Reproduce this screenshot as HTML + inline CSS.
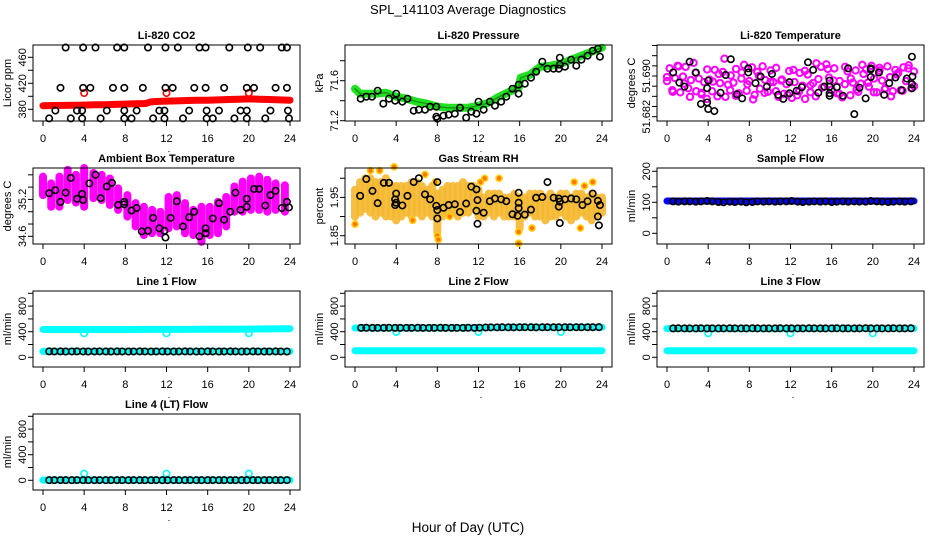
<!DOCTYPE html>
<html><head><meta charset="utf-8"><style>
html,body{margin:0;padding:0;background:#fff;}
svg{display:block;font-family:"Liberation Sans",sans-serif;}
</style></head><body>
<svg id="chart" width="936" height="540" viewBox="0 0 936 540" xmlns="http://www.w3.org/2000/svg">
<rect width="936" height="540" fill="#fff"/>
<text x="468" y="14" text-anchor="middle" font-size="13">SPL_141103  Average Diagnostics</text>
<text x="468" y="532" text-anchor="middle" font-size="13.5">Hour of Day (UTC)</text>
</svg>
<script>
// ---------- data ----------
const xTicks = [0,4,8,12,16,20,24];
// CO2
const co2BlackHours = [2.2,3.9,5.1,7.2,7.9,10.2,11.9,13.1,15.2,15.8,18.1,19.9,21.1,23.2,23.7,
 1.7,3.9,4.6,6.8,7.9,9.7,11.9,12.6,14.7,15.8,17.6,19.8,20.5,22.6,23.7,
 1.2,3.3,3.8,6.2,7.9,9.1,11.3,11.8,14.2,15.9,17.1,19.2,19.8,22.1,23.8,
 0.6,2.7,3.8,5.6,7.9,8.6,10.7,11.8,13.6,15.9,16.5,18.6,19.8,21.6,23.9];
const co2BlackVals = [475,475,475,475,475,475,475,475,475,475,475,475,475,475,475,
 413,413,413,413,413,413,413,413,413,413,413,413,413,413,413,
 378,378,378,378,378,378,378,378,378,378,378,378,378,378,378,
 366,366,366,366,366,366,366,366,366,366,366,366,366,366,366];
const co2RedHours = [0,1,2,3,4,5,6,7,8,9,10,10.5,11,12,13,14,15,16,17,18,19,20,21,22,23,24];
const co2RedVals = [385.5,385.8,386,386.2,386.5,387,387,387.5,388,388.5,389,391.5,392,392.5,393,393.5,394,394,394.5,395,395.5,396,395.5,395,394.5,394];
const co2RedOutHours = [4,12,20];
const co2RedOutVals = [405,405,405];
// Pressure
const pressBandHours = [0,0.5,1,2,3,4,5,6,7,8,9,10,11,12,13,14,15,15.9,16.1,17,18,19,20,21,22,23,24];
const pressBandVals = [71.52,71.47,71.47,71.47,71.48,71.44,71.42,71.39,71.37,71.34,71.33,71.33,71.33,71.35,71.38,71.44,71.49,71.53,71.63,71.66,71.74,71.75,71.77,71.81,71.85,71.89,71.93];
const pressBlackHours = [0.55,1.1,1.65,2.2,2.75,3.3,3.9,4.0,4.6,5.1,5.7,6.2,6.8,7.3,7.9,8.0,7.9,8.6,9.1,9.7,10.2,10.8,11.3,11.8,12.0,12.5,13.1,13.6,14.2,14.7,15.3,15.9,15.9,16.5,17.1,17.6,18.2,18.7,19.3,19.8,19.9,19.9,20.4,21.0,21.5,22.0,22.6,23.1,23.6,23.8];
const pressBlackVals = [71.42,71.44,71.44,71.50,71.37,71.42,71.40,71.47,71.39,71.42,71.30,71.31,71.31,71.34,71.24,71.22,71.34,71.25,71.26,71.27,71.33,71.23,71.29,71.27,71.39,71.31,71.39,71.35,71.39,71.44,71.52,71.56,71.47,71.57,71.63,71.69,71.79,71.72,71.72,71.72,71.83,71.76,71.74,71.81,71.75,71.81,71.85,71.90,71.92,71.84];
// Li-820 temperature (degrees C)
const liTempA = [51.6890,51.6915,51.6872,51.6896,51.6920,51.6868,51.6899,51.6918,51.6876,51.6892,51.6926,51.6870,51.6895,
 51.6864,51.6888,51.6855,51.6893,51.6870,51.6912,51.6860,51.6886,51.6908,51.6859,51.6883,51.6901,
 51.6887,51.6914,51.6866,51.6895,51.6922,51.6871,51.6890,51.6917,51.6863,51.6908,51.6875,51.6919,51.6892,51.6869,51.6911,51.6888,
 51.6870,51.6859,51.6891,51.6865,51.6884,51.6910,51.6857,51.6888,51.6862,51.6906,51.6881,51.6855,51.6903,51.6868,51.6886,51.6860,
 51.6894,51.6918,51.6879,51.6923,51.6897,51.6873,51.6915,
 51.6866,51.6890,51.6858,51.6884,51.6909,51.6862,51.6887,51.6911,51.6869,51.6885,51.6904,
 51.6913,51.6879,51.6920,51.6895,51.6868,51.6916,51.6891,51.6874,51.6919,51.6898,51.6870,51.6912,
 51.6906,51.6872,51.6917,51.6890,51.6921,51.6876,51.6909];
const liTempB = [51.6898,51.6869,51.6919,51.6885,51.6859,51.6906,51.6867,51.6913,51.6889,51.6904,51.6934,51.6872,
 51.6861,51.6907,51.6884,51.6854,51.6900,51.6867,51.6888,51.6916,51.6893,51.6863,51.6912,51.6870,
 51.6910,51.6882,51.6925,51.6877,51.6914,51.6891,51.6865,51.6918,51.6895,51.6873,51.6922,51.6887,
 51.6868,51.6911,51.6876,51.6860,51.6903,51.6871,51.6915,51.6880];
const liTempBlackHours = [0.6,1.2,1.7,2.2,2.8,3.3,4.0,3.9,3.9,4.0,4.6,5.2,5.7,6.2,6.8,7.3,7.9,7.9,8.6,9.1,9.7,10.2,10.8,11.3,11.9,11.9,12.6,13.1,13.7,14.2,14.7,15.3,15.8,15.8,15.8,15.8,16.5,17.1,17.6,18.2,18.7,19.3,19.8,19.8,19.8,20.6,21.1,21.6,22.2,22.8,23.3,23.8,23.85,23.8,23.8];
const liTempBlackVals = [51.6907,51.6887,51.6879,51.6928,51.6907,51.6845,51.6891,51.6876,51.6848,51.6835,51.6831,51.6867,51.6902,51.6933,51.6864,51.6856,51.6915,51.6907,51.6886,51.6899,51.6879,51.6904,51.6863,51.6855,51.6888,51.6866,51.6871,51.6878,51.6927,51.6912,51.6867,51.6879,51.6891,51.6879,51.6866,51.6861,51.6878,51.6861,51.6915,51.6825,51.6877,51.6856,51.6915,51.6913,51.6898,51.6907,51.6863,51.6886,51.6897,51.6872,51.6895,51.6938,51.6899,51.6884,51.6876];
// Ambient box temperature
const ambHours = [0.0,0.8,1.6,2.4,3.2,4.0,4.9,5.7,6.5,7.3,8.2,9.0,9.8,10.6,11.4,12.2,13.0,13.8,14.6,15.4,16.2,17.0,17.8,18.6,19.4,20.2,21.0,21.8,22.6,23.5];
const ambLow = [35.27,35.08,35.08,35.19,35.15,35.08,35.22,35.19,35.11,35.03,34.92,34.76,34.62,34.65,34.65,34.73,34.76,34.65,34.62,34.51,34.62,34.65,34.76,35.00,35.00,35.03,35.03,35.00,35.03,35.00];
const ambHigh = [35.57,35.46,35.57,35.68,35.60,35.71,35.63,35.60,35.54,35.38,35.27,35.14,35.08,35.03,35.00,35.24,35.27,35.14,35.03,35.08,35.08,35.16,35.24,35.41,35.49,35.54,35.57,35.52,35.46,35.43];
const ambBlackHours = [0.6,1.2,1.7,2.2,2.7,3.3,3.8,3.9,4.5,5.1,5.6,6.2,6.7,7.3,7.9,7.9,8.6,9.1,9.6,10.2,10.7,11.3,11.8,11.9,12.4,13.0,13.6,14.2,14.7,15.2,15.8,15.8,16.5,17.1,17.6,18.2,18.7,19.2,19.8,19.8,20.5,21.0,21.6,22.1,22.6,23.2,23.7,23.9];
const ambBlackVals = [35.30,35.35,35.16,35.31,35.55,35.21,35.29,35.19,35.46,35.60,35.22,35.41,35.47,35.11,35.16,35.12,35.02,35.06,34.68,34.69,34.90,34.73,34.69,34.58,34.90,35.17,34.76,34.91,35.00,34.60,34.73,34.65,34.89,35.14,34.87,35.00,35.31,35.03,35.21,35.08,35.37,35.37,35.10,35.27,35.34,35.06,35.16,35.07];
// Gas stream RH
const rhHours = [0,0.5,1,1.5,2,2.5,3,3.5,4,4.5,5,5.5,6,6.5,7,7.5,8,8.5,9,9.5,10,10.5,11,11.5,12,12.5,13,13.5,14,14.5,15,15.5,16,16.5,17,17.5,18,18.5,19,19.5,20,20.5,21,21.5,22,22.5,23,23.5,24];
const rhLow = [1.90,1.91,1.92,1.91,1.90,1.91,1.90,1.90,1.89,1.90,1.91,1.90,1.91,1.90,1.91,1.90,1.86,1.90,1.91,1.91,1.90,1.91,1.91,1.92,1.90,1.90,1.91,1.90,1.91,1.90,1.90,1.90,1.87,1.90,1.91,1.90,1.90,1.89,1.90,1.90,1.91,1.90,1.89,1.90,1.91,1.90,1.89,1.90,1.91];
const rhHigh = [1.97,1.99,2.00,2.00,1.99,1.99,2.00,1.98,1.98,1.98,1.98,1.99,1.99,1.98,1.97,1.98,1.96,1.97,1.98,1.98,1.98,1.99,1.98,1.98,1.97,1.95,1.96,1.96,1.96,1.95,1.95,1.96,1.95,1.95,1.96,1.96,1.96,1.95,1.96,1.95,1.96,1.96,1.95,1.96,1.96,1.95,1.96,1.95,1.95];
const rhOutHours = [0,1.5,2.4,3.8,6.8,7.8,8,8.1,14,15.9,15.9,17.2,21.3,22.3,23.1,21.9,5.6,9.2,12.2,12.6];
const rhOutVals = [1.88,2.02,2.02,2.03,2.01,1.99,1.85,1.84,2.00,1.83,1.86,1.87,1.99,1.98,1.99,1.87,1.89,1.90,1.99,2.00];
const rhBlackHours = [0.5,1.1,1.7,2.2,2.8,3.3,3.9,3.9,4.0,4.0,4.6,5.1,5.7,6.2,6.8,7.3,7.9,8.0,8.0,8.0,8.6,9.1,9.7,10.2,10.8,11.3,11.8,11.8,11.9,11.9,12.5,13.1,13.6,14.2,14.7,15.3,15.8,15.9,15.9,15.9,16.5,17.1,17.6,18.2,18.7,19.3,19.8,19.8,19.9,19.9,20.4,21.0,21.5,22.1,22.6,23.1,23.6,23.6,23.8,23.7];
const rhBlackVals = [1.954,1.998,1.967,1.935,1.988,1.988,1.945,1.930,1.936,1.960,1.929,1.954,1.990,2.000,1.958,1.945,1.928,1.990,1.895,1.917,1.923,1.930,1.932,1.912,1.934,1.978,1.971,1.915,1.943,1.881,1.910,1.940,1.947,1.945,1.940,1.906,1.902,1.962,1.936,1.922,1.905,1.918,1.949,1.951,1.990,1.949,1.947,1.926,1.939,1.883,1.945,1.947,1.945,1.930,1.940,1.960,1.941,1.900,1.930,1.877];
// Flows
const flowBlackHours = [0.6,1.1,1.7,2.2,2.8,3.3,3.9,4.4,5.0,5.5,6.1,6.6,7.2,7.7,8.3,8.8,9.4,9.9,10.5,11.0,11.6,12.1,12.7,13.2,13.8,14.3,14.9,15.4,16.0,16.5,17.1,17.6,18.2,18.7,19.3,19.8,20.4,20.9,21.5,22.0,22.6,23.1,23.7];
const sampleBlack = [103,102,103,103,102,103,104,103,101,100,102,101,102,100,101,103,102,103,102,103,103,104,102,101,102,103,102,103,101,102,103,102,103,102,102,104,103,102,101,102,103,102,103];
const line1Black = [92,91,92,90,91,92,91,90,91,92,91,90,92,91,90,91,92,91,90,91,92,91,90,91,92,91,90,91,92,91,90,91,92,91,90,91,92,91,90,91,92,91,90];
const line2Black = [460,461,460,459,460,461,460,460,459,460,461,460,459,460,461,460,460,459,460,461,460,462,466,468,468,469,468,468,469,470,469,468,469,470,469,469,470,469,470,469,470,470,471];
const line3Black = [452,453,452,451,452,453,452,452,451,452,453,452,451,452,453,452,452,451,452,453,452,452,451,452,453,452,452,451,452,453,452,452,451,452,453,452,452,451,452,453,452,452,453];
const line4Black = [2,2,3,2,2,3,2,2,2,3,2,2,3,2,2,3,2,2,2,3,2,2,3,2,2,3,2,2,2,3,2,2,3,2,2,3,2,2,2,3,2,2,3];
const bandHours = [0,2,4,6,8,10,12,14,16,18,20,22,24];
const sampleBlue = [104,104,104,104,104,104,104,104,104,104,104,104,104];
const line1CyanHi = [435,435,434,435,435,436,436,437,438,439,441,444,447];
const line1CyanLo = [92,92,92,92,92,92,92,92,92,92,92,92,92];
const line2CyanHi = [458,458,458,458,458,460,462,466,468,468,468,469,470];
const line2CyanLo = [103,103,103,103,103,103,103,103,103,103,103,103,103];
const line3CyanHi = [448,448,448,448,448,449,449,450,451,452,452,452,452];
const line3CyanLo = [103,103,103,103,103,103,103,103,103,103,103,103,103];
const line4CyanLo = [3,3,3,3,3,3,3,3,3,3,3,3,3];
const outHours = [4,12,20];
const line1Out = [375,375,375];
const line2Out = [395,395,395];
const line3Out = [375,375,375];
const line4Out = [105,105,105];

// ---------- drawing ----------
const NS = 'http://www.w3.org/2000/svg';
const svg = document.getElementById('chart');
function mk(tag, parent, name){
  const el = document.createElementNS(NS, tag);
  
  
  parent.appendChild(el);
  return el;
}
function panel(col, row, title, ylab, yBot, yTop, ticks, labels, pname){
  const L = 33 + col*312, T = 45 + row*123, W = 267, H = 76;
  const g = mk('g', svg, pname + '-panel');
  const sx = h => L + 10 + h*(W-20)/24;
  const sy = v => T + H - (v - yBot)/(yTop - yBot)*H;
  const t = mk('text', g, pname + '-title');
  t.setAttribute('x', L + W/2); t.setAttribute('y', T - 6);
  t.setAttribute('text-anchor', 'middle'); t.setAttribute('font-size', '11'); t.setAttribute('font-weight', 'bold');
  t.textContent = title;
  const yl = mk('text', g, pname + '-y-axis-title');
  yl.setAttribute('transform', `translate(${L-22},${T+H/2}) rotate(-90)`);
  yl.setAttribute('text-anchor', 'middle'); yl.setAttribute('font-size', '11');
  yl.textContent = ylab;
  ticks.forEach(v => {
    const tk = mk('line', g, pname + '-y-tick');
    tk.setAttribute('x1', L-5); tk.setAttribute('x2', L); tk.setAttribute('y1', sy(v)); tk.setAttribute('y2', sy(v));
    tk.setAttribute('stroke', '#000');
  });
  labels.forEach(v => {
    const tl = mk('text', g, pname + '-y-tick-label');
    tl.setAttribute('transform', `translate(${L-7},${sy(v)}) rotate(-90)`);
    tl.setAttribute('text-anchor', 'middle'); tl.setAttribute('font-size', '11');
    tl.textContent = String(v);
  });
  xTicks.forEach(h => {
    const tk = mk('line', g, pname + '-x-tick');
    tk.setAttribute('x1', sx(h)); tk.setAttribute('x2', sx(h)); tk.setAttribute('y1', T+H); tk.setAttribute('y2', T+H+5);
    tk.setAttribute('stroke', '#000');
    const tl = mk('text', g, pname + '-x-tick-label');
    tl.setAttribute('x', sx(h)); tl.setAttribute('y', T+H+21);
    tl.setAttribute('text-anchor', 'middle'); tl.setAttribute('font-size', '11');
    tl.textContent = String(h);
  });
  const dot = mk('rect', g, pname + '-x-axis-label-dot');
  dot.setAttribute('x', sx(12)+2); dot.setAttribute('y', T+H+30); dot.setAttribute('width', 1); dot.setAttribute('height', 1); dot.setAttribute('fill', '#000');
  const marks = mk('g', g, pname + '-marks');
  const box = mk('rect', g, pname + '-plot-box');
  box.setAttribute('x', L); box.setAttribute('y', T); box.setAttribute('width', W); box.setAttribute('height', H);
  box.setAttribute('fill', 'none'); box.setAttribute('stroke', '#000');
  return {g: marks, sx, sy};
}
function pts(p, hours, vals, color, name, r, sw, fill){
  const n = Math.min(hours.length, vals.length);
  for (let i = 0; i < n; i++){
    const c = mk('circle', p.g, name);
    c.setAttribute('cx', p.sx(hours[i])); c.setAttribute('cy', p.sy(vals[i]));
    c.setAttribute('r', r || 3.2); c.setAttribute('fill', fill || 'none');
    c.setAttribute('stroke', color); c.setAttribute('stroke-width', sw || 1.6);
  }
}
function idxPts(p, vals, color, name){
  const hours = vals.map((v,i) => i*24/(vals.length-1));
  pts(p, hours, vals, color, name, 3.2, 2);
}
function band(p, hours, vals, color, w, name){
  const n = Math.min(hours.length, vals.length);
  let d = '';
  for (let i = 0; i < n; i++) d += (i ? 'L' : 'M') + p.sx(hours[i]) + ' ' + p.sy(vals[i]);
  const pa = mk('path', p.g, name);
  pa.setAttribute('d', d); pa.setAttribute('fill', 'none'); pa.setAttribute('stroke', color);
  pa.setAttribute('stroke-width', w); pa.setAttribute('stroke-linecap', 'round'); pa.setAttribute('stroke-linejoin', 'round');
}
function streaks(p, hours, lo, hi, color, w, name, op){
  const n = Math.min(hours.length, lo.length, hi.length);
  for (let i = 0; i < n; i++){
    const l = mk('line', p.g, name);
    l.setAttribute('x1', p.sx(hours[i])); l.setAttribute('x2', p.sx(hours[i]));
    l.setAttribute('y1', p.sy(lo[i])); l.setAttribute('y2', p.sy(hi[i]));
    l.setAttribute('stroke', color); l.setAttribute('stroke-width', w); l.setAttribute('stroke-linecap', 'round');
    if (op) l.setAttribute('stroke-opacity', op);
  }
}

// CO2
let p = panel(0,0,'Li-820 CO2','Licor ppm',362,478.9,[380,400,420,440,460],[380,420,460],'co2');
band(p, co2RedHours, co2RedVals, '#ff0000', 7, 'co2-red-series');
pts(p, co2RedOutHours, co2RedOutVals, '#ff0000', 'co2-red-outlier');
pts(p, co2BlackHours, co2BlackVals, '#000', 'co2-hourly-point');
// Pressure
p = panel(1,0,'Li-820 Pressure','kPa',71.197,71.957,[71.2,71.4,71.6,71.8],[71.2,71.6],'pressure');
band(p, pressBandHours, pressBandVals, '#22e022', 8, 'pressure-green-series');
band(p, pressBandHours, pressBandVals, '#119911', 1.5, 'pressure-green-core');
pts(p, pressBlackHours, pressBlackVals, '#000', 'pressure-hourly-point');
// Li temperature
p = panel(2,0,'Li-820 Temperature','degrees C',51.68115,51.6961,[51.682,51.684,51.686,51.688,51.69,51.692,51.694,51.696],['51.682','51.690'],'li-temp');
idxPts(p, liTempA, '#ff00ff', 'li-temp-magenta-point');
idxPts(p, liTempB, '#ff00ff', 'li-temp-magenta-point');
pts(p, liTempBlackHours, liTempBlackVals, '#000', 'li-temp-hourly-point');
// Ambient
p = panel(0,1,'Ambient Box Temperature','degrees C',34.475,35.711,[34.6,34.8,35.0,35.2,35.4,35.6],['34.6','35.2'],'ambient');
streaks(p, ambHours, ambLow, ambHigh, '#ff00ff', 8, 'ambient-magenta-streak');
pts(p, ambBlackHours, ambBlackVals, '#000', 'ambient-hourly-point');
// RH
p = panel(1,1,'Gas Stream RH','percent',1.8283,2.0268,[1.85,1.9,1.95,2.0],['1.85','1.95'],'rh');
streaks(p, rhHours, rhLow, rhHigh, '#f5b830', 8, 'rh-orange-streak', 0.9);
pts(p, rhOutHours, rhOutVals, '#ffcc00', 'rh-orange-point', 3, 1.6, '#ff7700');
pts(p, rhBlackHours, rhBlackVals, '#000', 'rh-hourly-point');
// Sample flow
p = panel(2,1,'Sample Flow','ml/min',-34.5,210.6,[0,50,100,150,200],[0,100,200],'sample-flow');
band(p, bandHours, sampleBlue, '#0000ff', 7, 'sample-flow-blue-series');
pts(p, flowBlackHours, sampleBlack, '#000', 'sample-flow-hourly-point');
const fr = [0,200,400,600,800,1000], fl = [0,400,800];
// Line 1
p = panel(0,2,'Line 1 Flow','ml/min',-151.6,1036,fr,fl,'line1-flow');
band(p, bandHours, line1CyanHi, '#00ffff', 7, 'line1-cyan-high');
band(p, bandHours, line1CyanLo, '#00ffff', 7, 'line1-cyan-low');
pts(p, outHours, line1Out, '#00ffff', 'line1-cyan-outlier');
pts(p, flowBlackHours, line1Black, '#000', 'line1-hourly-point');
// Line 2
p = panel(1,2,'Line 2 Flow','ml/min',-151.6,1036,fr,fl,'line2-flow');
band(p, bandHours, line2CyanHi, '#00ffff', 7, 'line2-cyan-high');
band(p, bandHours, line2CyanLo, '#00ffff', 7, 'line2-cyan-low');
pts(p, outHours, line2Out, '#00ffff', 'line2-cyan-outlier');
pts(p, flowBlackHours, line2Black, '#000', 'line2-hourly-point');
// Line 3
p = panel(2,2,'Line 3 Flow','ml/min',-151.6,1036,fr,fl,'line3-flow');
band(p, bandHours, line3CyanHi, '#00ffff', 7, 'line3-cyan-high');
band(p, bandHours, line3CyanLo, '#00ffff', 7, 'line3-cyan-low');
pts(p, outHours, line3Out, '#00ffff', 'line3-cyan-outlier');
pts(p, flowBlackHours, line3Black, '#000', 'line3-hourly-point');
// Line 4
p = panel(0,3,'Line 4 (LT) Flow','ml/min',-151.6,1036,fr,fl,'line4-flow');
band(p, bandHours, line4CyanLo, '#00ffff', 7, 'line4-cyan-low');
pts(p, outHours, line4Out, '#00ffff', 'line4-cyan-outlier');
pts(p, flowBlackHours, line4Black, '#000', 'line4-hourly-point');
</script>
</body></html>
